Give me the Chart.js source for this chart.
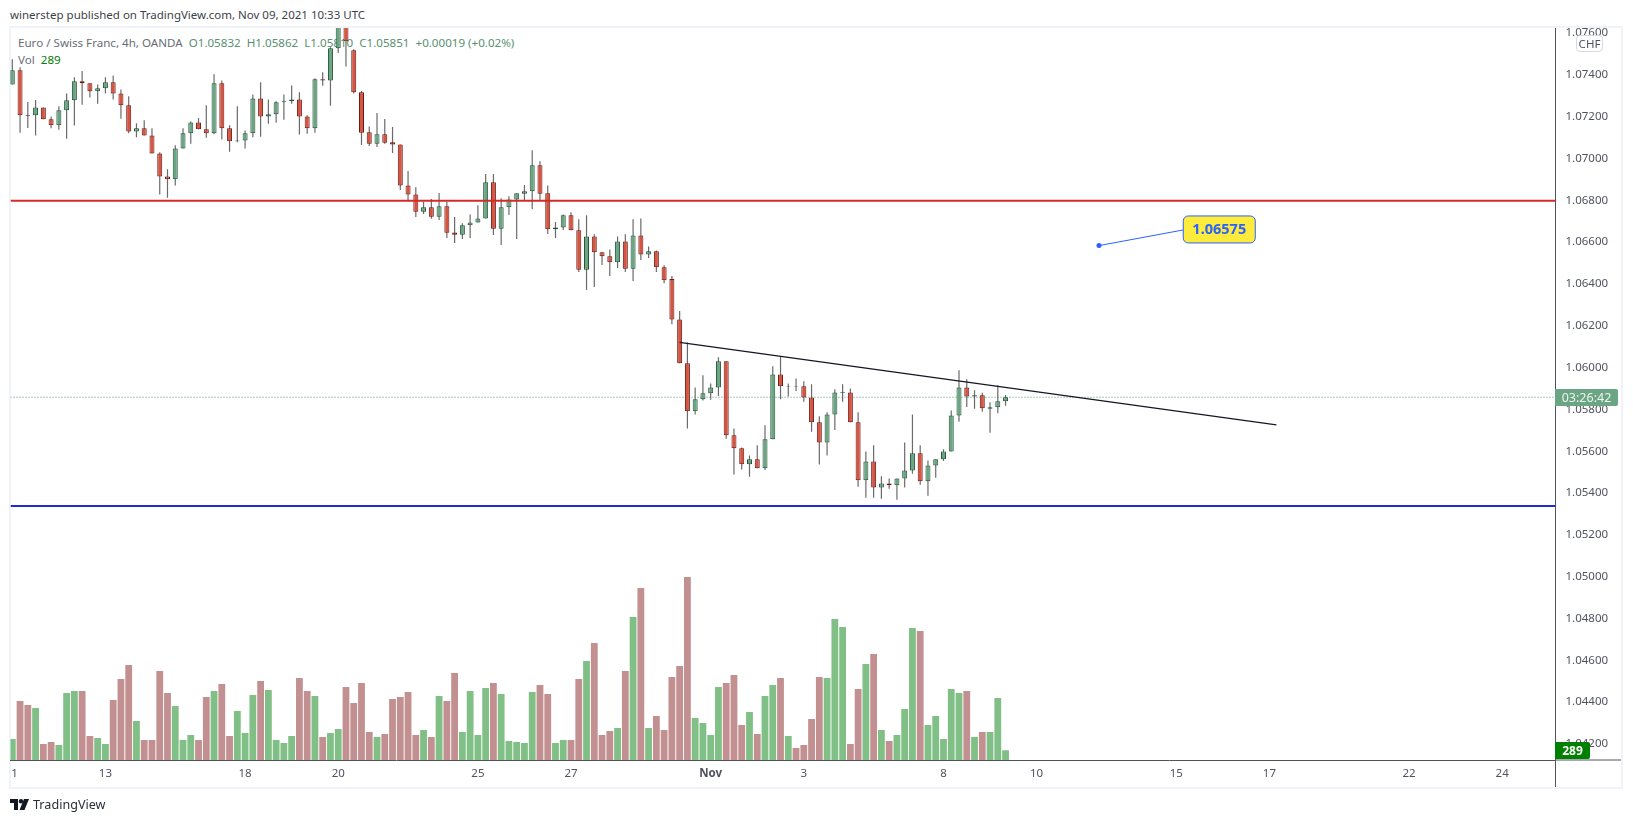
<!DOCTYPE html>
<html>
<head>
<meta charset="utf-8">
<script src="https://cdn.jsdelivr.net/npm/chart.js@4/dist/chart.umd.min.js"></script>
<style>
html,body{margin:0;padding:0;background:#fff;width:1633px;height:823px;overflow:hidden;font-family:"Noto Sans",sans-serif;color:#50535e}
.abs{position:absolute;white-space:nowrap}
canvas{position:absolute;left:0;top:0}
</style>
</head>
<body>
<div class="abs" style="left:9px;top:26px;width:1610px;height:759px;border:2px solid #f0f3fa;background:#fff"></div>
<div class="abs" id="legend1" style="left:18px;top:33.5px;font-size:11.6px;line-height:17px;color:#6a6d78">Euro / Swiss Franc, 4h, OANDA&nbsp;&nbsp;<span style="color:#5a8f72">O</span><span style="color:#5a8f72">1.05832</span>&nbsp;&nbsp;<span style="color:#5a8f72">H1.05862</span>&nbsp;&nbsp;<span style="color:#5a8f72">L1.05810</span>&nbsp;&nbsp;<span style="color:#5a8f72">C1.05851</span>&nbsp;&nbsp;<span style="color:#5a8f72">+0.00019 (+0.02%)</span></div>
<div class="abs" id="legend2" style="left:18px;top:50.5px;font-size:11.6px;line-height:17px;color:#6a6d78">Vol&nbsp;&nbsp;<span style="color:#008000">289</span></div>
<canvas id="c" width="1633" height="823"></canvas>
<div class="abs" style="left:0;top:0;width:1633px;height:26px;background:#fff"></div>
<div class="abs" style="left:9px;top:26px;width:1614px;height:1.5px;background:#f0f3fa"></div>
<div class="abs" id="pub" style="left:10px;top:6px;font-size:11.5px;line-height:18px;color:#3c3f48">winerstep published on TradingView.com, Nov 09, 2021 10:33 UTC</div>
<div class="abs" style="left:1576px;top:35px;width:25px;height:15px;border:1px solid #d6d9e3;border-radius:4px;background:#fff;font-size:11.5px;line-height:15px;text-align:center">CHF</div>
<div class="abs" style="left:1555px;top:389px;width:63px;height:17px;border-radius:0 2px 2px 0;background:#6ba583;color:#eef5f0;font-size:12.5px;line-height:17px;text-align:center">03:26:42</div>
<div class="abs" style="left:1555px;top:742px;width:35px;height:17px;border-radius:0 2px 2px 0;background:#008000;color:#fff;font-size:12px;font-weight:700;line-height:17px;text-align:center">289</div>
<svg class="abs" style="left:10px;top:799px" width="20" height="12" viewBox="0 0 20 12"><path d="M0 0h8v11H4V4H0z" fill="#131722"/><circle cx="11" cy="2.3" r="2.2" fill="#131722"/><path d="M14 0h5l-4.5 11H9.5z" fill="#131722"/></svg>
<div class="abs" style="left:33px;top:796px;font-size:12.6px;line-height:18px;color:#2a2e39">TradingView</div>
<script>
const opens=[1.07347,1.07414,1.07201,1.07199,1.07237,1.07180,1.07151,1.07223,1.07271,1.07362,1.07352,1.07314,1.07328,1.07357,1.07304,1.07247,1.07122,1.07137,1.07103,1.07017,1.06907,1.06893,1.07041,1.07113,1.07165,1.07132,1.07113,1.07352,1.07137,1.07075,1.07079,1.07113,1.07280,1.07194,1.07204,1.07261,1.07266,1.07275,1.07194,1.07137,1.07371,1.07366,1.07520,1.07660,1.07510,
1.07309,1.07118,1.07063,1.07108,1.07070,1.07060,1.06864,1.06821,1.06738,1.06759,1.06714,1.06764,1.06639,1.06628,1.06673,1.06686,1.06706,1.06879,1.06657,1.06759,1.06797,1.06824,1.06836,1.06960,1.06826,1.06654,1.06663,1.06721,1.06649,1.06461,1.06620,1.06544,1.06525,1.06496,1.06596,1.06466,1.06625,1.06534,1.06549,1.06472,1.06416,
1.06223,1.06013,1.05784,1.05841,1.05870,1.05898,1.06023,1.05669,1.05607,1.05530,1.05554,1.05511,1.05650,1.05960,1.05902,1.05905,1.05903,1.05850,1.05731,1.05635,1.05769,1.05873,1.05874,1.05731,1.05454,1.05544,1.05420,1.05439,1.05430,1.05463,1.05501,1.05583,1.05449,1.05525,1.05554,1.05592,1.05764,1.05898,1.05854,1.05860,1.05796,1.05803,1.05832];
const highs=[1.07467,1.07429,1.07263,1.07272,1.07237,1.07194,1.07242,1.07304,1.07381,1.07411,1.07352,1.07347,1.07381,1.07390,1.07323,1.07290,1.07161,1.07175,1.07137,1.07022,1.06941,1.07056,1.07137,1.07170,1.07186,1.07247,1.07395,1.07366,1.07151,1.07242,1.07127,1.07299,1.07357,1.07275,1.07266,1.07299,1.07342,1.07309,1.07199,1.07376,1.07405,1.07525,1.07700,1.07700,1.07515,
1.07315,1.07146,1.07210,1.07181,1.07143,1.07060,1.06933,1.06855,1.06786,1.06799,1.06828,1.06786,1.06713,1.06683,1.06725,1.06769,1.06918,1.06918,1.06802,1.06812,1.06826,1.06866,1.07032,1.06979,1.06864,1.06689,1.06725,1.06735,1.06702,1.06721,1.06630,1.06544,1.06558,1.06620,1.06630,1.06702,1.06706,1.06572,1.06553,1.06482,1.06431,
1.06263,1.06113,1.05898,1.05956,1.05917,1.06042,1.06023,1.05702,1.05611,1.05573,1.05621,1.05717,1.05999,1.06045,1.05917,1.05941,1.05927,1.05913,1.05760,1.05779,1.05889,1.05913,1.05893,1.05779,1.05592,1.05621,1.05473,1.05463,1.05463,1.05635,1.05769,1.05621,1.05549,1.05554,1.05602,1.05788,1.05980,1.05937,1.05884,1.05873,1.05827,1.05908,1.05862];
const lows=[1.07347,1.07116,1.07138,1.07102,1.07180,1.07137,1.07130,1.07087,1.07150,1.07250,1.07284,1.07255,1.07304,1.07275,1.07183,1.07113,1.07094,1.07103,1.07017,1.06820,1.06805,1.06863,1.07041,1.07063,1.07132,1.07092,1.07108,1.07084,1.07025,1.07070,1.07040,1.07094,1.07097,1.07159,1.07164,1.07178,1.07255,1.07107,1.07111,1.07116,1.07341,1.07245,1.07497,1.07432,1.07303,
1.07057,1.07052,1.07048,1.07063,1.07019,1.06842,1.06793,1.06713,1.06727,1.06705,1.06698,1.06612,1.06588,1.06608,1.06612,1.06686,1.06706,1.06627,1.06579,1.06722,1.06608,1.06793,1.06751,1.06793,1.06632,1.06612,1.06651,1.06649,1.06450,1.06364,1.06378,1.06483,1.06431,1.06469,1.06450,1.06407,1.06507,1.06517,1.06450,1.06396,1.06200,
1.06013,1.05701,1.05768,1.05836,1.05839,1.05857,1.05653,1.05481,1.05505,1.05471,1.05511,1.05503,1.05650,1.05841,1.05854,1.05881,1.05830,1.05686,1.05529,1.05572,1.05694,1.05830,1.05731,1.05423,1.05371,1.05371,1.05366,1.05414,1.05361,1.05419,1.05485,1.05433,1.05380,1.05466,1.05546,1.05592,1.05734,1.05804,1.05796,1.05782,1.05681,1.05774,1.05810];
const closes=[1.07414,1.07199,1.07197,1.07237,1.07180,1.07151,1.07223,1.07271,1.07362,1.07352,1.07314,1.07328,1.07357,1.07304,1.07247,1.07122,1.07137,1.07103,1.07017,1.06907,1.06893,1.07041,1.07113,1.07165,1.07132,1.07113,1.07352,1.07137,1.07075,1.07079,1.07113,1.07280,1.07194,1.07204,1.07261,1.07266,1.07275,1.07194,1.07137,1.07371,1.07366,1.07520,1.07680,1.07553,1.07309,
1.07116,1.07063,1.07108,1.07068,1.07059,1.06863,1.06820,1.06738,1.06759,1.06714,1.06764,1.06638,1.06628,1.06673,1.06687,1.06706,1.06879,1.06657,1.06759,1.06797,1.06826,1.06836,1.06960,1.06824,1.06654,1.06663,1.06721,1.06649,1.06461,1.06620,1.06544,1.06525,1.06496,1.06596,1.06466,1.06625,1.06534,1.06549,1.06472,1.06410,1.06223,
1.06013,1.05784,1.05841,1.05870,1.05898,1.06023,1.05669,1.05607,1.05530,1.05554,1.05511,1.05650,1.05960,1.05903,1.05905,1.05902,1.05850,1.05731,1.05635,1.05769,1.05874,1.05876,1.05731,1.05454,1.05544,1.05420,1.05439,1.05430,1.05463,1.05501,1.05583,1.05449,1.05525,1.05554,1.05592,1.05764,1.05898,1.05855,1.05860,1.05798,1.05803,1.05832,1.05851];
const volumes=[630,1770,1650,1560,480,540,450,2010,2070,2070,720,660,480,1800,2430,2850,1170,600,600,2670,2010,1620,600,750,600,1890,2070,2280,720,1470,810,1950,2370,2100,600,510,720,2460,2070,1920,690,810,930,
2190,1710,2310,840,690,780,1830,1890,2040,750,900,690,1920,1770,2610,840,2070,750,2160,2310,1980,570,540,510,2040,2250,1980,510,600,600,2430,2970,3510,750,870,960,2670,4290,5160,960,1320,900,
2490,2820,5490,1260,1110,750,2190,2310,2550,1050,1440,780,1920,2250,2460,720,360,450,1230,2490,2460,4230,3990,480,2130,2880,3180,900,570,750,1530,3960,3870,1050,1320,630,2130,2010,2070,690,840,840,1860,289];
const tickIndex=[0.3,12,30,42,60,72,90,102,120,132,150,162,180,192];
const tickText=["1","13","18","20","25","27","Nov","3","8","10","15","17","22","24"];
const resistance=1.06791, support=1.05331, lastPrice=1.05851;
const trendX=[86,162.9], trendY=[1.061135,1.05719];
const noteX=[140.04,150.9], noteY=[1.06576,1.06651], noteText="1.06575";
const xRange=[-0.232,198.87], priceRange=[1.041164,1.076214], volMax=21990;

const idx=opens.map((_,i)=>i);
const up=i=>closes[i]>=opens[i];
const bodyBars=idx.map(i=>({x:i,y:[opens[i],closes[i]]}));
const wickBars=idx.map(i=>({x:i,y:[lows[i],highs[i]]}));
const volBars=idx.map(i=>({x:i,y:volumes[i]}));
const hLine=(v,o)=>Object.assign({type:'line',data:[{x:xRange[0],y:v},{x:xRange[1],y:v}],pointRadius:0,fill:false,yAxisID:'y',xAxisID:'x'},o);

const tickFont='"Noto Sans",sans-serif';
const notePlugin={id:'note',afterDatasetsDraw(ch){
  const {ctx,scales:{x,y}}=ch;
  const l=x.getPixelForValue(noteX[1]), cy=y.getPixelForValue(noteY[1]);
  ctx.save();
  ctx.beginPath();ctx.roundRect(l,cy-14,72,27,5);
  ctx.fillStyle='#ffeb3b';ctx.fill();ctx.lineWidth=1;ctx.strokeStyle='#2962ff';ctx.stroke();
  ctx.fillStyle='#2962ff';ctx.font='bold 14.5px '+tickFont;ctx.textAlign='center';ctx.textBaseline='middle';
  ctx.fillText(noteText,l+36,cy);
  ctx.restore();
}};
const framePlugin={id:'frameLines',afterDraw(ch){
  const {ctx,chartArea:a}=ch;
  ctx.save();ctx.strokeStyle='#50535e';ctx.lineWidth=1;
  ctx.beginPath();ctx.moveTo(a.right,a.bottom);ctx.lineTo(a.right,787);ctx.moveTo(a.right,a.bottom);ctx.lineTo(1621,a.bottom);ctx.stroke();
  ctx.restore();
}};

new Chart(document.getElementById('c'),{
  type:'bar',
  plugins:[notePlugin,framePlugin],
  data:{datasets:[
    hLine(resistance,{borderColor:'#d32a2a',borderWidth:2,order:0}),
    hLine(support,{borderColor:'#1c2bd6',borderWidth:2,order:0}),
    {type:'line',data:trendX.map((v,i)=>({x:v,y:trendY[i]})),borderColor:'#131722',borderWidth:1.2,pointRadius:0,order:0},
    {type:'line',data:noteX.map((v,i)=>({x:v,y:noteY[i]})),borderColor:'#2962ff',borderWidth:1,pointRadius:[2.5,0],pointBackgroundColor:'#2962ff',pointBorderWidth:0,order:0},
    {data:bodyBars,grouped:false,barThickness:5,borderWidth:1,borderSkipped:false,inflateAmount:0,
     backgroundColor:idx.map(i=>up(i)?'#6ba583':'#d75442'),
     borderColor:idx.map(i=>up(i)?'#225437':'#6b1a13'),order:1},
    {data:wickBars,grouped:false,barThickness:1.2,borderWidth:0,inflateAmount:0,backgroundColor:'#6a6a6c',order:2},
    hLine(lastPrice,{borderColor:'#4f9270',borderWidth:1,borderDash:[1,2],order:3}),
    {data:volBars,yAxisID:'yVol',grouped:false,barThickness:6.8,borderWidth:0,inflateAmount:0,
     backgroundColor:idx.map(i=>up(i)?'#80bf85':'#c29090'),order:4}
  ]},
  options:{
    responsive:false,animation:false,devicePixelRatio:1,
    layout:{padding:{left:10.5,top:27,right:0,bottom:0}},
    plugins:{legend:{display:false},tooltip:{enabled:false}},
    scales:{
      x:{type:'linear',min:xRange[0],max:xRange[1],offset:false,
        grid:{display:false,drawTicks:false},
        border:{display:true,color:'#50535e'},
        afterBuildTicks:s=>{s.ticks=tickIndex.map(v=>({value:v}));},
        afterFit:s=>{s.height=63;},
        ticks:{autoSkip:false,maxRotation:0,padding:7,color:'#50535e',
          font:c=>({family:tickFont,size:11.5,weight:(c.tick&&c.tick.value===90)?'bold':'normal'}),
          callback:v=>{const k=tickIndex.indexOf(v);return k<0?'':tickText[k];}}},
      y:{type:'linear',position:'right',min:priceRange[0],max:priceRange[1],
        grid:{display:false,drawTicks:false},
        border:{display:true,color:'#50535e'},
        afterFit:s=>{s.width=77.5;},
        ticks:{stepSize:0.002,includeBounds:false,padding:10,labelOffset:1.5,color:'#50535e',crossAlign:'near',
          font:{family:tickFont,size:11.5},callback:v=>v.toFixed(5)}},
      yVol:{type:'linear',display:false,position:'left',min:0,max:volMax,grid:{display:false}}
    }
  }
});
</script>
</body>
</html>
